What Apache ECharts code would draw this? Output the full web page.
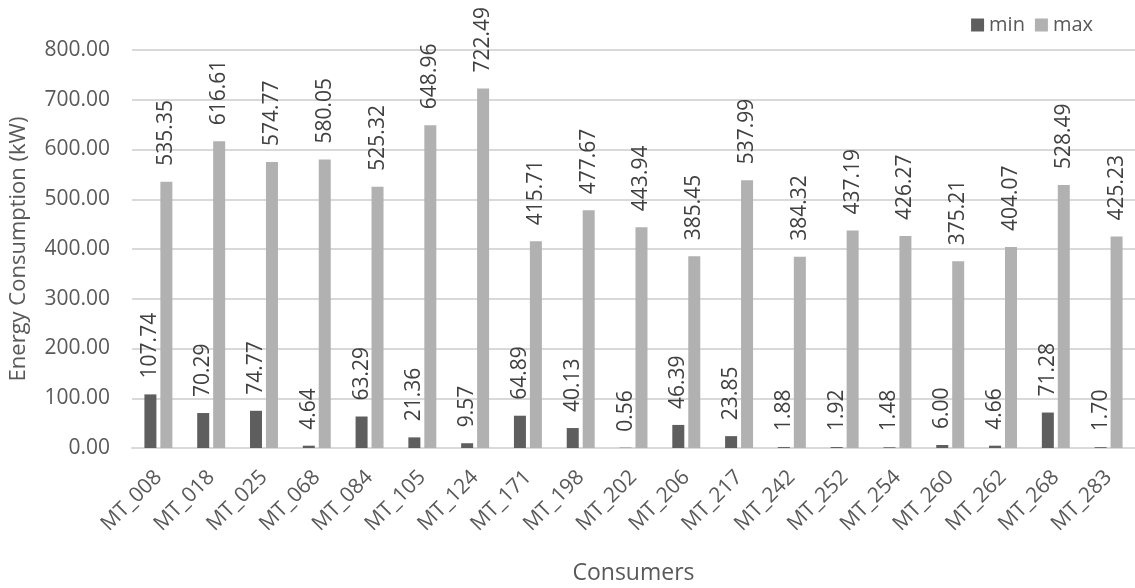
<!DOCTYPE html>
<html>
<head>
<meta charset="utf-8">
<script src="https://cdn.jsdelivr.net/npm/echarts@6/dist/echarts.min.js"></script>
<style>
  html, body { margin: 0; padding: 0; background: #fff; }
  #chart { width: 1135px; height: 588px; }
</style>
</head>
<body>
<div id="chart"></div>
<script>
const consumers = ["MT_008", "MT_018", "MT_025", "MT_068", "MT_084", "MT_105", "MT_124", "MT_171", "MT_198", "MT_202",
  "MT_206", "MT_217", "MT_242", "MT_252", "MT_254", "MT_260", "MT_262", "MT_268", "MT_283"];
const minValues = [107.74, 70.29, 74.77, 4.64, 63.29, 21.36, 9.57, 64.89, 40.13, 0.56,
  46.39, 23.85, 1.88, 1.92, 1.48, 6.00, 4.66, 71.28, 1.70];
const maxValues = [535.35, 616.61, 574.77, 580.05, 525.32, 648.96, 722.49, 415.71, 477.67, 443.94,
  385.45, 537.99, 384.32, 437.19, 426.27, 375.21, 404.07, 528.49, 425.23];

const font = "'Open Sans', sans-serif";
const axisGrey = "#595959";

function barLabel() {
  return {
    show: true,
    position: "top",
    rotate: 90,
    align: "left",
    verticalAlign: "middle",
    distance: 16,
    fontFamily: font,
    fontSize: 21,
    color: "#404040",
    formatter: p => p.value.toFixed(2)
  };
}

const chart = echarts.init(document.getElementById("chart"));
chart.setOption({
  animation: false,
  textStyle: { fontFamily: font },
  legend: {
    top: 10,
    right: 37,
    itemWidth: 13,
    itemHeight: 13,
    itemGap: 10,
    icon: "rect",
    textStyle: { fontFamily: font, fontSize: 20, color: axisGrey },
    data: ["min", "max"]
  },
  grid: { left: 132, right: 0, top: 50, bottom: 140, containLabel: false, outerBoundsMode: "none" },
  xAxis: {
    type: "category",
    data: consumers,
    name: "Consumers",
    nameLocation: "middle",
    nameGap: 114,
    nameTextStyle: { fontFamily: font, fontSize: 23, color: axisGrey },
    axisLine: { lineStyle: { color: "#d9d9d9", width: 2 } },
    axisTick: { show: false },
    axisLabel: {
      rotate: 45,
      margin: 26,
      fontFamily: font,
      fontSize: 21,
      color: axisGrey
    }
  },
  yAxis: {
    type: "value",
    min: 0,
    max: 800,
    interval: 100,
    name: "Energy Consumption (kW)",
    nameLocation: "middle",
    nameGap: 102,
    nameTextStyle: { fontFamily: font, fontSize: 22, color: axisGrey },
    axisLabel: {
      margin: 22,
      fontFamily: font,
      fontSize: 21,
      color: axisGrey,
      formatter: v => v.toFixed(2)
    },
    splitLine: { lineStyle: { color: "#d9d9d9", width: 2 } }
  },
  series: [
    {
      name: "min",
      type: "bar",
      data: minValues,
      barWidth: 12,
      barGap: "33%",
      itemStyle: { color: "#5e5e5e" },
      label: barLabel()
    },
    {
      name: "max",
      type: "bar",
      data: maxValues,
      barWidth: 12,
      itemStyle: { color: "#b1b1b1" },
      label: barLabel()
    }
  ]
});
</script>
</body>
</html>
